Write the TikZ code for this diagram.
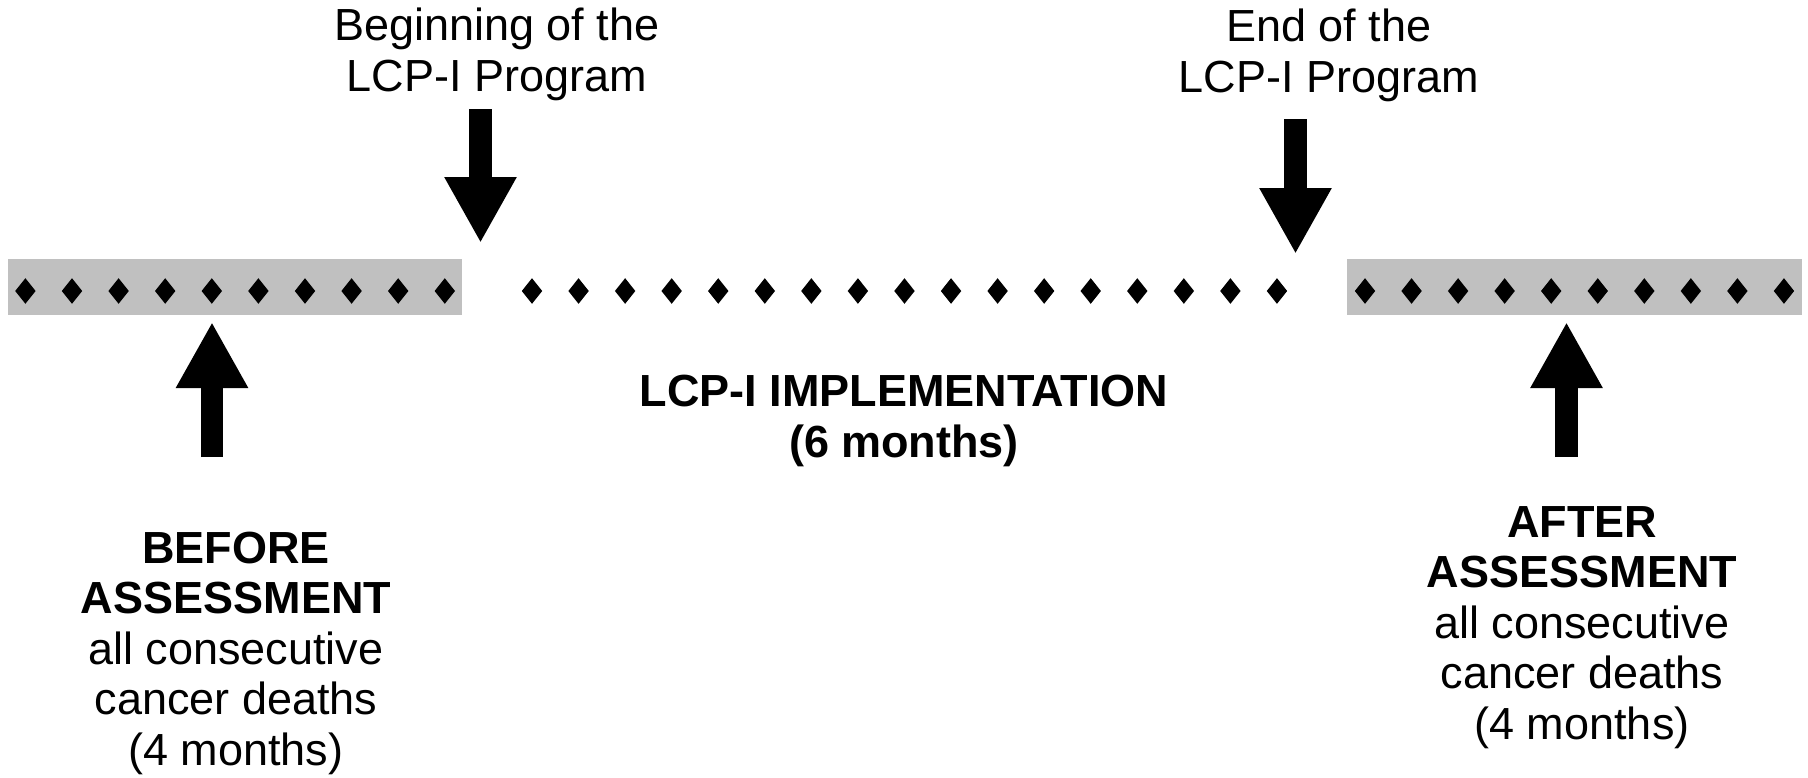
\documentclass[tikz,border=0pt]{standalone}
\usepackage{fontspec}
\setmainfont{Liberation Sans}
\usetikzlibrary{arrows.meta}
\definecolor{bandgray}{HTML}{C0C0C0}
\begin{document}
\begin{tikzpicture}[x=0.5pt,y=-0.5pt,
  lbl/.style={align=center, font=\fontsize{22.5}{25.25}\selectfont, inner sep=0pt, anchor=base},
  bigarrow/.style={line width=11.25pt, -{Triangle[length=33pt,width=33.75pt]}},
  band/.style={fill=bandgray},
  dia/.style={fill=black}]
\useasboundingbox[fill=white] (0,0) rectangle (1808,777);
% grey bands
\fill[band] (8,259) rectangle (462,315);
\fill[band] (1347,259) rectangle (1802,315);
% diamonds
\foreach \k in {0,...,9}
  \fill[dia] ({25.4+46.6*\k},278.2) -- ++(10.2,12.8) -- ++(-10.2,12.8) -- ++(-10.2,-12.8) -- cycle;
\foreach \k in {0,...,16}
  \fill[dia] ({532+46.56*\k},278.2) -- ++(10.2,12.8) -- ++(-10.2,12.8) -- ++(-10.2,-12.8) -- cycle;
\foreach \k in {0,...,9}
  \fill[dia] ({1365+46.55*\k},278.2) -- ++(10.2,12.8) -- ++(-10.2,12.8) -- ++(-10.2,-12.8) -- cycle;
% arrow end points
\coordinate (bs) at (480.5,109);
\coordinate (bt) at (480.5,243);
\coordinate (es) at (1295.5,119);
\coordinate (et) at (1295.5,254);
\coordinate (ls) at (212,457);
\coordinate (lt) at (212,322);
\coordinate (rs) at (1566.5,457);
\coordinate (rt) at (1566.5,322);
\draw[bigarrow] (bs) -- (bt);
\draw[bigarrow] (es) -- (et);
\draw[bigarrow] (ls) -- (lt);
\draw[bigarrow] (rs) -- (rt);
% labels (base anchor = baseline of the last line)
\node[lbl] (begin) at (497,91) {Beginning of the\\LCP-I Program};
\node[lbl] (end) at (1329,92) {End of the\\LCP-I Program};
\node[lbl, font=\fontsize{22.5}{25.25}\selectfont\bfseries] (impl) at (904,457) {LCP-I IMPLEMENTATION\\(6 months)};
\node[lbl] (before) at (236,765) {\textbf{BEFORE}\\\textbf{ASSESSMENT}\\all consecutive\\cancer deaths\\(4 months)};
\node[lbl] (after) at (1582,739) {\textbf{AFTER}\\\textbf{ASSESSMENT}\\all consecutive\\cancer deaths\\(4 months)};
\end{tikzpicture}
\end{document}
